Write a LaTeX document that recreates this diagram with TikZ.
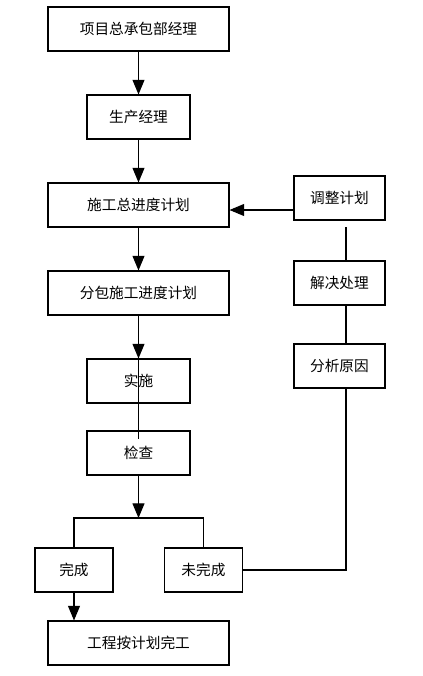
\documentclass[tikz,border=0pt]{standalone}
\usepackage{fontspec}
\setmainfont{Noto Sans CJK SC}
\usetikzlibrary{shapes.geometric, arrows.meta}
\tikzstyle{bigbox} = [rectangle, minimum width=135.75pt, minimum height=33pt, text centered, draw=black, thick, font=\fontsize{11}{13}\selectfont]
\tikzstyle{midbox} = [bigbox, minimum width=77.25pt]
\tikzstyle{smallbox} = [bigbox, minimum width=58.5pt]
\tikzstyle{sidebox} = [bigbox, minimum width=68.25pt]
\tikzstyle{arrow} = [thick,-{Triangle[width=9pt,length=11pt]}]
\tikzstyle{line} = [thick]

\begin{document}
\begin{tikzpicture}[node distance=66pt]
    \useasboundingbox (0,0) rectangle (317.25pt,-507pt);

        \node (mgr) [bigbox] at (103.875pt,-21.75pt) {项目总承包部经理};
        \node (prod) [midbox, below of=mgr] {生产经理};
        \node (plan) [bigbox, below of=prod] {施工总进度计划};
        \node (sub) [bigbox, below of=plan] {分包施工进度计划};
        \node (impl) [midbox, below of=sub] {实施};
        \node (check) [midbox, below of=impl, node distance=54pt] {检查};
        \coordinate (split) at (103.875pt,-388.5pt);
        \node (done) [smallbox] at (55.5pt,-427.5pt) {完成};
        \node (undone) [smallbox] at (152.6pt,-427.5pt) {未完成};
        \node (finish) [bigbox] at (103.875pt,-482.25pt) {工程按计划完工};

        \node (adjust) [sidebox] at (254.6pt,-148.5pt) {调整计划};
        \node (solve) [sidebox] at (254.6pt,-212.25pt) {解决处理};
        \node (analyse) [sidebox] at (254.6pt,-274.5pt) {分析原因};

        % Flechas
        \draw [arrow] (mgr) -- (prod);
        \draw [arrow] (prod) -- (plan);
        \draw [arrow] (plan) -- (sub);
        \draw [arrow] (sub) -- (impl);
        \draw [line] (impl.north) -- ([yshift=-6.75pt]check.north);
        \draw [arrow] (check) -- (split);
        \draw [line] (done.north) |- (split) -| (undone.north);
        \draw [arrow] (done.south) -- (done.south |- finish.north);

        % Ciclo de ajuste
        \draw [arrow] ([yshift=-9pt]adjust.west) -- ([yshift=-9pt]adjust.west -| plan.east);
        \draw [line, shorten <=5pt] ([xshift=4.9pt]adjust.south) -- ([xshift=4.9pt]solve.north);
        \draw [line] ([xshift=4.9pt]solve.south) -- ([xshift=4.9pt]analyse.north);
        \draw [line] (undone.east) -| ([xshift=4.9pt]analyse.south);

    \end{tikzpicture}
\end{document}
